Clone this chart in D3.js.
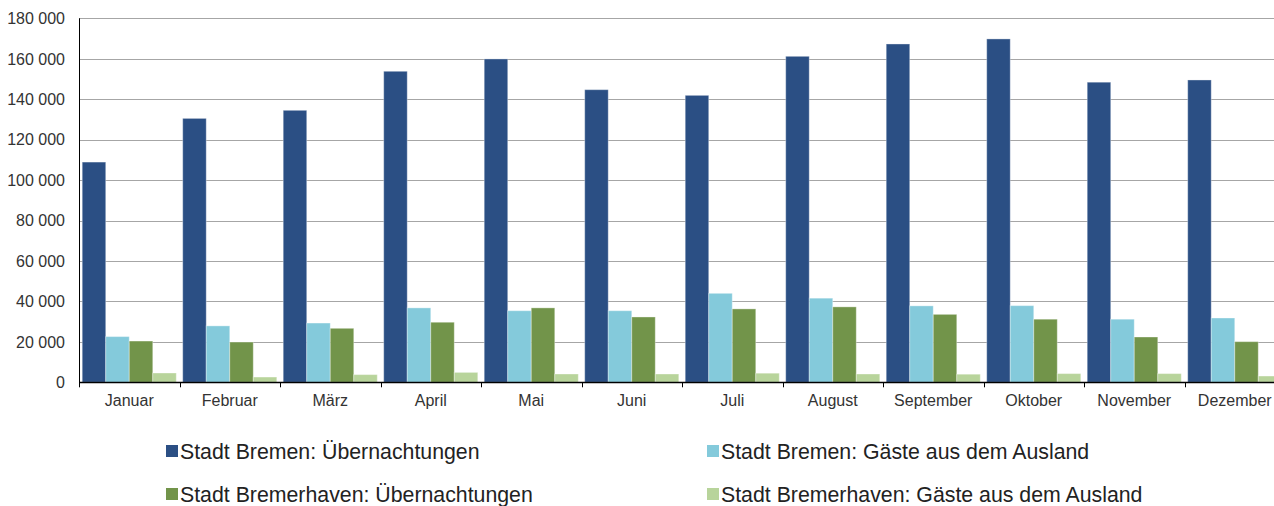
<!DOCTYPE html>
<html>
<head>
<meta charset="utf-8">
<script src="https://cdn.jsdelivr.net/npm/d3@7"></script>
<style>
  body { margin: 0; background: #fff; }
  svg { display: block; font-family: "Liberation Sans", Arial, sans-serif; }
</style>
</head>
<body>
<div id="chart"></div>
<script>
// months and series
var months = ['Januar','Februar','März','April','Mai','Juni','Juli','August','September','Oktober','November','Dezember'];
var seriesNames = ['Stadt Bremen: Übernachtungen','Stadt Bremen: Gäste aus dem Ausland','Stadt Bremerhaven: Übernachtungen','Stadt Bremerhaven: Gäste aus dem Ausland'];
var bremenNights = [108900,130500,134500,153800,159900,144700,141900,161200,167300,169800,148400,149500];
var bremenForeign = [22600,27900,29300,36800,35400,35400,44000,41600,37800,37900,31200,31800];
var bhvNights = [20400,19900,26700,29700,36800,32300,36300,37300,33600,31200,22400,20100];
var bhvForeign = [4600,2600,3800,4900,4100,4100,4500,4100,4000,4300,4300,3100];
var colors = ['#2b4f84','#84cadb','#72944a','#b8d49b'];
var yTicks = [0,20000,40000,60000,80000,100000,120000,140000,160000,180000];

var width = 1274, height = 506;
var mLeft = 79, mTop = 18.3, mBottom = 382.3;
var groupW = 100.5;

var svg = d3.select('#chart').append('svg')
  .attr('width', width).attr('height', height);

var x0 = d3.scaleBand().domain(months)
  .range([mLeft, mLeft + groupW * months.length]).padding(0);
var x1 = d3.scaleBand().domain(d3.range(4))
  .range([x0.bandwidth() * 0.032, x0.bandwidth() * 0.968]).padding(0);
var y = d3.scaleLinear().domain([0, 180000]).range([mBottom, mTop]);

var fmt = function(d){ return d3.format(',')(d).replace(/,/g, ' '); };

// gridlines
svg.append('g').selectAll('line')
  .data(yTicks.slice(1))
  .enter().append('line')
  .attr('x1', mLeft).attr('x2', x0.range()[1])
  .attr('y1', function(d){ return Math.round(y(d)) + 0.5; })
  .attr('y2', function(d){ return Math.round(y(d)) + 0.5; })
  .attr('stroke', '#a6a6a6').attr('stroke-width', 1);

// y labels
svg.append('g').selectAll('text')
  .data(yTicks)
  .enter().append('text')
  .attr('x', 65)
  .attr('y', function(d){ return y(d); })
  .attr('dy', '0.36em')
  .attr('text-anchor', 'end')
  .attr('font-size', 16)
  .attr('fill', '#333')
  .text(fmt);

// bars
var table = months.map(function(m, i){
  return { month: m, values: [bremenNights[i], bremenForeign[i], bhvNights[i], bhvForeign[i]] };
});
var groups = svg.append('g').selectAll('g')
  .data(table)
  .enter().append('g')
  .attr('transform', function(d){ return 'translate(' + x0(d.month) + ',0)'; });
groups.selectAll('rect')
  .data(function(d){ return d.values; })
  .enter().append('rect')
  .attr('x', function(d, i){ return x1(i); })
  .attr('y', function(d){ return y(d); })
  .attr('width', x1.bandwidth())
  .attr('height', function(d){ return mBottom - y(d); })
  .attr('fill', function(d, i){ return colors[i]; })
  .attr('stroke', 'rgba(255,255,255,0.35)')
  .attr('stroke-width', 1);

// axes lines
svg.append('line')
  .attr('x1', mLeft + 0.5).attr('x2', mLeft + 0.5)
  .attr('y1', mTop).attr('y2', mBottom)
  .attr('stroke', '#000').attr('stroke-width', 1);
svg.append('line')
  .attr('x1', mLeft).attr('x2', x0.range()[1])
  .attr('y1', Math.round(mBottom) + 0.5).attr('y2', Math.round(mBottom) + 0.5)
  .attr('stroke', '#000').attr('stroke-width', 1.3);

// x ticks at group boundaries
svg.append('g').selectAll('line')
  .data(months)
  .enter().append('line')
  .attr('x1', function(d){ return Math.round(x0(d)) + 0.5; })
  .attr('x2', function(d){ return Math.round(x0(d)) + 0.5; })
  .attr('y1', mBottom).attr('y2', mBottom + 5)
  .attr('stroke', '#000').attr('stroke-width', 1);

// x labels
svg.append('g').selectAll('text')
  .data(months)
  .enter().append('text')
  .attr('x', function(d){ return x0(d) + x0.bandwidth() / 2; })
  .attr('y', 406)
  .attr('text-anchor', 'middle')
  .attr('font-size', 16)
  .attr('fill', '#333')
  .text(function(d){ return d; });

// legend
var legendPos = [[166, 451], [707, 451], [166, 494], [707, 494]];
var legend = svg.append('g').selectAll('g')
  .data(seriesNames)
  .enter().append('g')
  .attr('transform', function(d, i){ return 'translate(' + legendPos[i][0] + ',' + legendPos[i][1] + ')'; });
legend.append('rect')
  .attr('x', 0).attr('y', -6)
  .attr('width', 12).attr('height', 12)
  .attr('fill', function(d, i){ return colors[i]; });
legend.append('text')
  .attr('x', 14).attr('y', 0)
  .attr('dy', '0.36em')
  .attr('font-size', 21.3)
  .attr('fill', '#222')
  .text(function(d){ return d; });
</script>
</body>
</html>
